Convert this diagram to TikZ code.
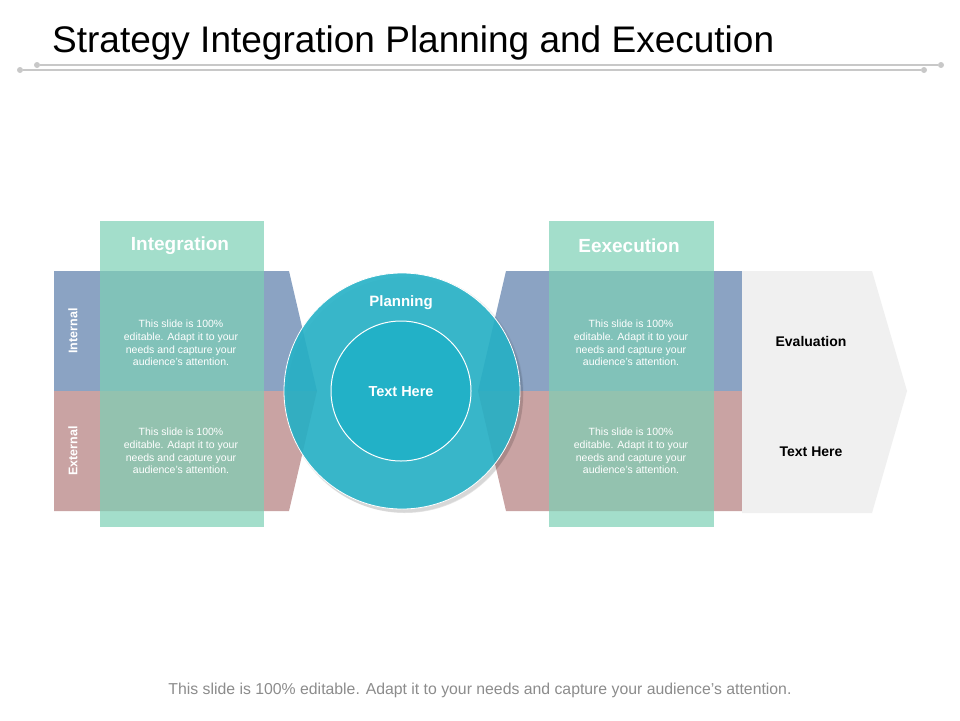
\documentclass[tikz,border=0pt]{standalone}
\usepackage{fontspec}
\setmainfont{Liberation Sans}
\definecolor{bandblue}{HTML}{8BA3C3}
\definecolor{bandred}{HTML}{C9A3A3}
\definecolor{bandgrey}{HTML}{F0F0F0}
\definecolor{colgreen}{HTML}{7DD0B5}
\definecolor{circout}{HTML}{27B3C8}
\definecolor{circin}{HTML}{22B1C7}
\definecolor{rulegrey}{HTML}{C8C8C8}
\definecolor{foottext}{HTML}{8C8C8C}
\tikzset{
  bodytext/.style={text=white, align=center, font=\fontsize{10.5}{12.7}\selectfont, inner sep=0pt},
  header/.style={text=white, font=\fontsize{19}{22}\selectfont\bfseries, inner sep=0pt},
  sidelabel/.style={text=white, font=\fontsize{12.5}{14}\selectfont\bfseries, rotate=90, inner sep=0pt},
  darklabel/.style={text=black, font=\fontsize{14}{16}\selectfont\bfseries, inner sep=0pt},
  circlabel/.style={text=white, font=\fontsize{15}{18}\selectfont\bfseries, inner sep=0pt},
  greencol/.style={fill=colgreen, fill opacity=0.7},
  dot/.style={circle, fill=rulegrey, inner sep=0pt, minimum size=6pt}
}
\begin{document}
\begin{tikzpicture}[x=1pt,y=-1pt]
\fill[white] (0,0) rectangle (960,720);
\useasboundingbox (0,0) rectangle (960,720);
% title
\node[anchor=base west, inner sep=0pt, font=\fontsize{37}{41}\selectfont] (title) at (52,52) {Strategy Integration Planning and Execution};
% rules
\node[dot] (d1) at (37,65) {};
\node[dot] (d2) at (941,65) {};
\node[dot] (d3) at (20,70) {};
\node[dot] (d4) at (924,70) {};
\draw[rulegrey, line width=1.2pt] (d1) -- (d2);
\draw[rulegrey, line width=1.2pt] (d3) -- (d4);
% left band
\fill[bandblue] (54,271) -- (289,271) -- (317,391) -- (54,391) -- cycle;
\fill[bandred] (54,391) -- (317,391) -- (289,511) -- (54,511) -- cycle;
% right band
\fill[bandblue] (506,271) -- (742,271) -- (742,391) -- (478,391) -- cycle;
\fill[bandred] (478,391) -- (742,391) -- (742,511) -- (506,511) -- cycle;
% grey chevron
\fill[bandgrey] (742,271) -- (872,271) -- (907,391) -- (872,513) -- (742,513) -- cycle;
% green columns
\fill[greencol] (100,221) rectangle (264,527);
\fill[greencol] (549,221) rectangle (714,527);
% circle
\fill[black, opacity=0.10] (405,395) circle (118);
\fill[black, opacity=0.06] (404,393) circle (119.5);
\fill[circout, fill opacity=0.9, draw=white, line width=0.8pt] (402,391) circle (118);
\fill[circin, draw=white, line width=1pt] (401,391) circle (70);
% texts
\node[header] (integ) at (180,246) {Integration};
\node[header] (exec) at (629,246) {Eexecution};
\node[sidelabel] (internal) at (73,331) {Internal};
\node[sidelabel] (external) at (73,451) {External};
\node[bodytext] (t1) at (181,343) {This slide is 100\%\\editable. Adapt it to your\\needs and capture your\\audience's attention.};
\node[bodytext] (t2) at (181,451) {This slide is 100\%\\editable. Adapt it to your\\needs and capture your\\audience's attention.};
\node[bodytext] (t3) at (631,343) {This slide is 100\%\\editable. Adapt it to your\\needs and capture your\\audience's attention.};
\node[bodytext] (t4) at (631,451) {This slide is 100\%\\editable. Adapt it to your\\needs and capture your\\audience's attention.};
\node[circlabel] (plan) at (401,303) {Planning};
\node[circlabel, font=\fontsize{14.5}{17}\selectfont\bfseries] (center) at (401,392) {Text Here};
\node[darklabel] (eval) at (811,341) {Evaluation};
\node[darklabel] (texthere) at (811,452) {Text Here};
% footer
\node[text=foottext, font=\fontsize{15.8}{18}\selectfont, inner sep=0pt] (foot) at (480,690) {This slide is 100\% editable. Adapt it to your needs and capture your audience's attention.};
\end{tikzpicture}
\end{document}
